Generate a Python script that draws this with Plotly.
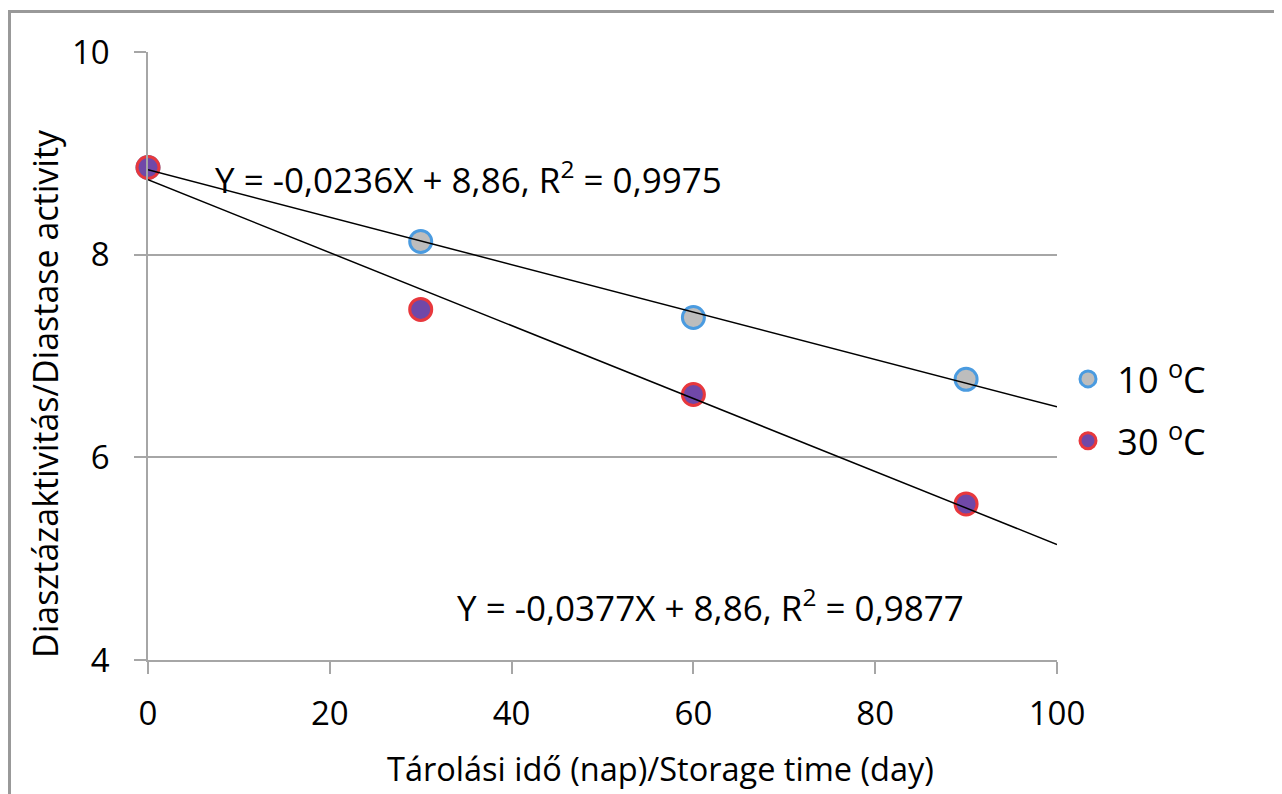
import numpy as np
import plotly.graph_objects as go

days = [0, 30, 60, 90]
act_10C = [8.86, 8.13, 7.38, 6.77]
act_30C = [8.86, 7.46, 6.62, 5.54]
series_names = [" 10 <sup>o</sup>C", " 30 <sup>o</sup>C"]
eq_10C = "Y = -0,0236X + 8,86, R<sup>2</sup> = 0,9975"
eq_30C = "Y = -0,0377X + 8,86, R<sup>2</sup> = 0,9877"
x_title = "Tárolási idő (nap)/Storage time (day)"
y_title = "Diasztázaktivitás/Diastase activity"
x_ticks = [0, 20, 40, 60, 80, 100]
y_ticks = [4, 6, 8, 10]

FONT = "Open Sans"
OFF = 8  # default page body margin
W, H = 1282 - OFF, 794 - OFF
L, T = 148 - OFF, 52 - OFF
pw, ph = 909, 608
R, B = W - L - pw, H - T - ph


def px(xp):
    return (xp - OFF - L) / pw


def py(yp):
    return (T + ph - (yp - OFF)) / ph


fig = go.Figure()
fig.add_trace(go.Scatter(
    x=days, y=act_10C, mode="markers", name=series_names[0], legendgroup="a",
    marker=dict(size=22, color="#bdbdbd", line=dict(color="#4a9be0", width=3)),
    cliponaxis=False))
fig.add_trace(go.Scatter(
    x=days, y=act_30C, mode="markers", name=series_names[1], legendgroup="b",
    marker=dict(size=22, color="#7048a8", line=dict(color="#e8383d", width=3)),
    cliponaxis=False))

xl = np.array([0, 100])
for ys in (act_10C, act_30C):
    k, b = np.polyfit(days, ys, 1)
    fig.add_trace(go.Scatter(x=xl, y=k * xl + b, mode="lines", showlegend=False,
                             line=dict(color="black", width=1.5), hoverinfo="skip"))

fig.update_layout(
    width=W, height=H,
    margin=dict(l=L, r=R, t=T, b=B),
    paper_bgcolor="white", plot_bgcolor="white",
    font=dict(family=FONT, size=28, color="black"),
    showlegend=True,
    legend=dict(x=px(1068), y=py(349), xanchor="left", yanchor="top",
                font=dict(size=36), tracegroupgap=12, bgcolor="rgba(0,0,0,0)"),
    xaxis=dict(range=[0, 100], tickvals=x_ticks, showgrid=False, zeroline=False,
               showline=True, linecolor="#a6a6a6", linewidth=1.5,
               ticks="outside", ticklen=12, tickcolor="#a6a6a6", tickwidth=1.5,
               tickfont=dict(size=33), ticklabelstandoff=12),
    yaxis=dict(range=[4, 10], tickvals=y_ticks, showgrid=True, gridcolor="#a6a6a6",
               gridwidth=1.5, zeroline=False,
               showline=True, linecolor="#a6a6a6", linewidth=1.5,
               ticks="outside", ticklen=12, tickcolor="#a6a6a6", tickwidth=1.5,
               tickfont=dict(size=33), ticklabelstandoff=18),
    annotations=[
        dict(x=35.3, y=8.76, xref="x", yref="y", text=eq_10C, showarrow=False,
             xanchor="center", yanchor="middle", font=dict(size=35)),
        dict(x=61.9, y=4.54, xref="x", yref="y", text=eq_30C, showarrow=False,
             xanchor="center", yanchor="middle", font=dict(size=35)),
        dict(x=px(660), y=py(768), xref="paper", yref="paper", text=x_title,
             showarrow=False, xanchor="center", yanchor="middle", font=dict(size=32.5)),
        dict(x=px(45), y=py(394), xref="paper", yref="paper", text=y_title,
             showarrow=False, textangle=-90, xanchor="center", yanchor="middle",
             font=dict(size=34)),
    ],
    shapes=[
        dict(type="line", xref="paper", yref="paper", x0=px(9.5), x1=px(9.5),
             y0=py(10), y1=py(800), line=dict(color="#999999", width=3)),
        dict(type="line", xref="paper", yref="paper", x0=px(8), x1=px(1290),
             y0=py(11.5), y1=py(11.5), line=dict(color="#999999", width=3)),
    ],
)

fig.write_html("out.html")
